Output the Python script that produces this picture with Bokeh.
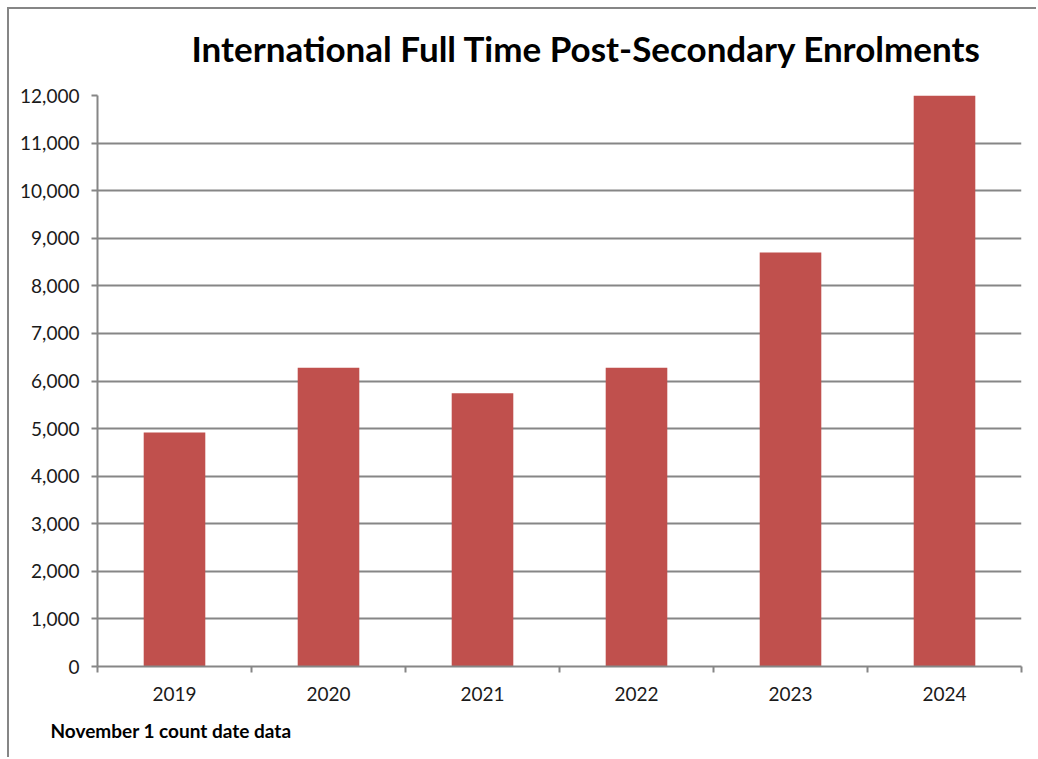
from bokeh.plotting import figure
from bokeh.models import Range1d, FixedTicker, NumeralTickFormatter, Title, ColumnDataSource
from bokeh.embed import file_html
from bokeh.resources import INLINE

years = ["2019", "2020", "2021", "2022", "2023", "2024"]
enrolments = [4920, 6280, 5740, 6280, 8700, 12000]
y_ticks = list(range(0, 12001, 1000))
title_text = "International Full Time Post-Secondary Enrolments"
note_text = "November 1 count date data"

GRAY = "#868686"
FONT = "Lato"

xs = [i + 0.5 for i in range(len(years))]
src = ColumnDataSource(dict(x=xs, top=enrolments, year=years))

W, H = 1029, 750
p = figure(width=W, height=H, output_backend="svg", toolbar_location=None,
           x_range=Range1d(0, len(years)), y_range=Range1d(0, 12000),
           min_border_left=88, min_border_right=17, min_border_top=86, min_border_bottom=93)
p.styles = {"border-left": "2px solid " + GRAY, "border-top": "2px solid " + GRAY,
            "margin-left": "7px", "margin-top": "7px"}

p.vbar(x="x", top="top", width=0.4, bottom=0, source=src, fill_color="#C0504D", line_color=None)

p.outline_line_color = None
p.background_fill_color = "white"
p.border_fill_color = "white"

p.xgrid.grid_line_color = None
p.ygrid.grid_line_color = GRAY
p.ygrid.grid_line_width = 2
p.ygrid.ticker = FixedTicker(ticks=y_ticks)

yax = p.yaxis[0]
yax.ticker = FixedTicker(ticks=y_ticks)
yax.formatter = NumeralTickFormatter(format="0,0")
yax.axis_line_color = GRAY
yax.axis_line_width = 2
yax.major_tick_line_color = GRAY
yax.major_tick_line_width = 2
yax.major_tick_out = 6
yax.major_tick_in = 0
yax.minor_tick_line_color = None
yax.major_label_text_font = FONT
yax.major_label_text_font_size = "19px"
yax.major_label_text_color = "#1a1a1a"
yax.major_label_standoff = 12

xax = p.xaxis[0]
xax.ticker = FixedTicker(ticks=xs, minor_ticks=list(range(len(years) + 1)))
xax.major_label_overrides = {x: y for x, y in zip(xs, years)}
xax.axis_line_color = GRAY
xax.axis_line_width = 2
xax.major_tick_line_color = None
xax.major_tick_out = 0
xax.major_tick_in = 0
xax.minor_tick_line_color = GRAY
xax.minor_tick_line_width = 2
xax.minor_tick_out = 6
xax.minor_tick_in = 0
xax.major_label_text_font = FONT
xax.major_label_text_font_size = "19px"
xax.major_label_text_color = "#1a1a1a"
xax.major_label_standoff = 14

spacer = Title(text=" ", text_font_size="1px", standoff=10)
p.add_layout(spacer, "above")

title = Title(text=title_text, text_font=FONT, text_font_style="bold", text_font_size="35px",
              text_color="black", align="left", offset=94, standoff=28)
p.add_layout(title, "above")

note = Title(text=note_text, text_font=FONT, text_font_style="bold", text_font_size="19px",
             text_color="black", align="left", offset=-47, standoff=27)
p.add_layout(note, "below")

open("out.html", "w").write(file_html(p, INLINE))
